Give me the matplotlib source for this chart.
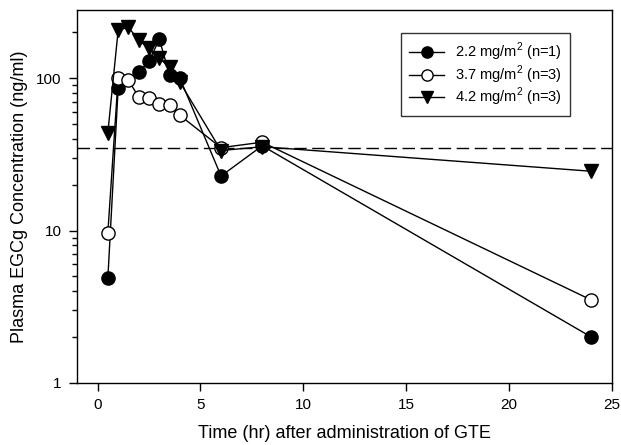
import matplotlib
matplotlib.use("Agg")
import matplotlib.pyplot as plt
from matplotlib.ticker import FixedLocator, LogLocator, NullFormatter, FixedFormatter

plt.rcParams['font.family'] = ['Liberation Sans', 'DejaVu Sans']
plt.rcParams['mathtext.fontset'] = 'custom'
plt.rcParams['mathtext.rm'] = 'Liberation Sans'

t_22 = [0.5, 1, 2, 2.5, 3, 3.5, 4, 6, 8, 24]
c_22 = [4.9, 86, 109, 129, 180, 105, 100, 22.8, 36, 2.0]

t_37 = [0.5, 1, 1.5, 2, 2.5, 3, 3.5, 4, 6, 8, 24]
c_37 = [9.7, 100, 97, 75, 74, 68, 67, 57, 35, 38, 3.5]

t_42 = [0.5, 1, 1.5, 2, 2.5, 3, 3.5, 4, 6, 8, 24]
c_42 = [44, 206, 216, 177, 157, 135, 118, 94, 33.5, 35.5, 24.5]

labels = ["2.2 mg/m$^2$ (n=1)", "3.7 mg/m$^2$ (n=3)", "4.2 mg/m$^2$ (n=3)"]
ref_level = 35
xticks = [0, 5, 10, 15, 20, 25]
yticks = [1, 10, 100]

fig = plt.figure(figsize=(6.21, 4.45), dpi=100)
ax = fig.add_axes([77/621, 1 - 383/445, (612-77)/621, (383-10)/445])

ax.axhline(ref_level, color='black', lw=1, ls=(0, (9, 4)), zorder=1)
ax.plot(t_22, c_22, '-o', color='black', mfc='black', mec='black', ms=9.5, lw=1, label=labels[0], zorder=3)
ax.plot(t_37, c_37, '-o', color='black', mfc='white', mec='black', ms=9.5, lw=1, label=labels[1], zorder=3)
ax.plot(t_42, c_42, '-v', color='black', mfc='black', mec='black', ms=10, lw=1, label=labels[2], zorder=3)

ax.set_yscale('log')
ax.set_xlim(-1, 25)
ax.set_ylim(1, 280)
ax.set_xticks(xticks)
ax.set_xticklabels([str(v) for v in xticks])
ax.yaxis.set_major_locator(FixedLocator(yticks))
ax.yaxis.set_major_formatter(FixedFormatter([str(v) for v in yticks]))
ax.yaxis.set_minor_locator(LogLocator(base=10, subs=range(2, 10)))
ax.yaxis.set_minor_formatter(NullFormatter())
ax.tick_params(axis='both', which='major', direction='out', length=6, width=1, labelsize=11)
ax.tick_params(axis='x', which='major', pad=5)
ax.tick_params(axis='y', which='major', pad=5)
ax.tick_params(axis='y', which='minor', direction='out', length=3.5, width=1)
ax.tick_params(axis='x', which='minor', bottom=False)
for s in ax.spines.values():
    s.set_linewidth(1)

ax.set_xlabel('Time (hr) after administration of GTE', fontsize=13)
ax.set_ylabel('Plasma EGCg Concentration (ng/ml)', fontsize=13)
ax.xaxis.set_label_coords(0.5, (383 - 425) / 373)
ax.yaxis.set_label_coords((28 - 77) / 535, 0.5)

leg = ax.legend(loc='upper right', bbox_to_anchor=((570 - 77) / 535, (383 - 33) / 373),
                borderaxespad=0, fontsize=10.5, frameon=True, markerscale=0.85,
                fancybox=False, edgecolor='black', handlelength=2.4, borderpad=0.55,
                labelspacing=0.0, handletextpad=0.75)
leg.get_frame().set_linewidth(1)

fig.savefig('out.png', dpi=100)
